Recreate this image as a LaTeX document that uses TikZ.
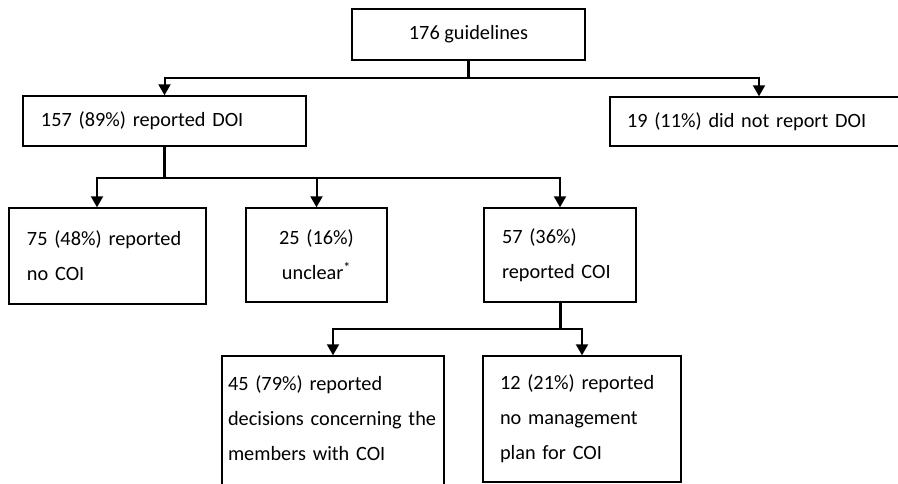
\documentclass[tikz,border=0pt]{standalone}
\usepackage{fontspec}
\setmainfont{Carlito}
\usetikzlibrary{arrows.meta}

\tikzset{
  box/.style={draw, line width=1.4pt, inner ysep=0pt, align=left,
    font=\fontsize{20.3}{35}\selectfont},
  stem/.style={line width=3pt, line cap=rect},
  branch/.style={line width=2pt, -{Triangle[width=12pt,length=11pt]}}
}

\begin{document}
\begin{tikzpicture}[x=1pt,y=-1pt]
\useasboundingbox (0,0) rectangle (898,484);

% boxes
\node[box, align=center, minimum width=233pt, minimum height=51pt] (guide) at (468.5,34.5) {176 guidelines};
\node[box, text width=247pt, inner xsep=18pt, minimum height=50pt] (doi) at (164.5,121) {157 (89\%) reported DOI};
\node[box, text width=264pt, inner xsep=17pt, minimum height=49pt] (nodoi) at (759,121.5) {19 (11\%) did not report DOI};

\node[box, text width=161pt, inner xsep=18pt, minimum height=96pt] (nocoi) at (107.5,256) {75 (48\%) reported\\no COI};
\node[box, align=center, text width=125pt, inner xsep=8pt, minimum height=94pt] (unclear) at (316.5,255) {25 (16\%)\\unclear\textsuperscript{*}};
\node[box, text width=116pt, inner xsep=18pt, minimum height=94pt] (coi) at (560,255) {57 (36\%)\\reported COI};

\node[box, text width=210pt, inner xsep=6pt, minimum height=159pt] (decis) at (333,435.5) {45 (79\%) reported\\decisions concerning the\\members with COI\\\mbox{}};
\node[box, text width=164pt, inner xsep=17pt, minimum height=126pt] (noplan) at (582,419) {12 (21\%) reported\\no management\\plan for COI};

% connectors
\draw[stem] (guide.south) -- ++(0,17) coordinate (s1);
\draw[branch] (s1) -| (doi.north);
\draw[branch] (s1) -| (nodoi.north);

\draw[stem] (doi.south) -- ++(0,31) coordinate (s2);
\draw[branch] (s2) -| ([xshift=-10.5pt]nocoi.north);
\draw[branch] (s2) -| (unclear.north);
\draw[branch] (s2) -| (coi.north);

\draw[stem] (coi.south) -- ++(0,26) coordinate (s3);
\draw[branch] (s3) -| (decis.north);
\draw[branch] (s3) -| (noplan.north);
\end{tikzpicture}
\end{document}
